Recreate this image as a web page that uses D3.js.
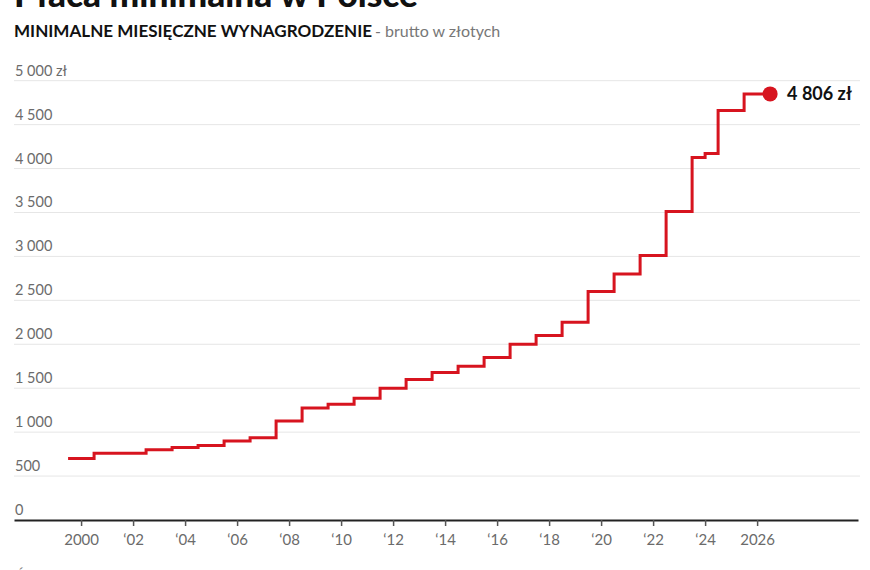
<!DOCTYPE html>
<html>
<head>
<meta charset="utf-8">
<script src="https://cdn.jsdelivr.net/npm/d3@7"></script>
<style>
  body { margin: 0; background: #fff; }
  text { font-family: Lato, "Open Sans", sans-serif; }
</style>
</head>
<body>
<div id="chart"></div>
<script>
// start of each wage period (decimal year) and wage in zł
const periods = [2000, 2001, 2002, 2003, 2004, 2005, 2006, 2007, 2008, 2009,
                 2010, 2011, 2012, 2013, 2014, 2015, 2016, 2017, 2018, 2019,
                 2020, 2021, 2022, 2023, 2024, 2024.5, 2025, 2026];
const wages = [700, 760, 760, 800, 824, 849, 899, 936, 1126, 1276,
               1317, 1386, 1500, 1600, 1680, 1750, 1850, 2000, 2100, 2250,
               2600, 2800, 3010, 3510, 4125, 4170, 4660, 4850];
const endYear = 2027;
const endLabel = "4 806 zł";

const yTicks = [0, 500, 1000, 1500, 2000, 2500, 3000, 3500, 4000, 4500, 5000];
const xTicks = [2000, 2002, 2004, 2006, 2008, 2010, 2012, 2014, 2016, 2018, 2020, 2022, 2024, 2026];

const title = "Płaca minimalna w Polsce";
const subtitleBold = "MINIMALNE MIESIĘCZNE WYNAGRODZENIE";
const subtitleLight = " - brutto w złotych";
const source = "Źródło: GUS, MRPiPS";

const W = 870, H = 570;
const red = "#d7141f";

const svg = d3.select("#chart").append("svg")
    .attr("width", W)
    .attr("height", H);

const x = d3.scaleLinear()
    .domain([1997.92, 2030.38])
    .range([14, 858]);

const y = d3.scaleLinear()
    .domain([0, 5000])
    .range([520, 80.7]);

// title (cut off at the top)
svg.append("text")
    .attr("x", 14)
    .attr("y", 7)
    .attr("textLength", 404)
    .attr("lengthAdjust", "spacingAndGlyphs")
    .style("font-size", "34px")
    .style("font-weight", 900)
    .attr("fill", "#111")
    .text(title);

svg.append("text")
    .attr("x", 14)
    .attr("y", 36.5)
    .attr("textLength", 358)
    .attr("lengthAdjust", "spacingAndGlyphs")
    .style("font-size", "17px")
    .style("font-weight", 700)
    .attr("fill", "#111")
    .text(subtitleBold);

svg.append("text")
    .attr("x", 375)
    .attr("y", 36.5)
    .style("font-size", "16px")
    .style("font-weight", 400)
    .attr("fill", "#777")
    .text(subtitleLight.trim());

// grid
svg.append("g")
    .attr("class", "grid")
    .selectAll("line")
    .data(yTicks.filter(d => d > 0))
    .join("line")
    .attr("x1", 14)
    .attr("x2", 860)
    .attr("y1", d => y(d))
    .attr("y2", d => y(d))
    .attr("stroke", "#e6e6e6")
    .attr("stroke-width", 1);

const fmt = d => d3.format(",")(d).replace(/,/g, " ");

svg.append("g")
    .selectAll("text")
    .data(yTicks)
    .join("text")
    .attr("x", 15)
    .attr("y", d => y(d) - 5)
    .style("font-size", "14.5px")
    .attr("fill", "#6b6b6b")
    .text(d => d === 5000 ? fmt(d) + " zł" : fmt(d));

// x axis, ticks in the middle of each year
const xAxis = d3.axisBottom(x)
    .tickValues(xTicks.map(d => d + 0.5))
    .tickSize(6)
    .tickSizeOuter(0)
    .tickPadding(8)
    .tickFormat(d => {
        const yr = Math.floor(d);
        return (yr === 2000 || yr === 2026) ? String(yr) : "\u2018" + String(yr).slice(2);
    });

const gx = svg.append("g")
    .attr("transform", "translate(0," + y(0) + ")")
    .call(xAxis);
gx.select(".domain").attr("stroke", "#222").attr("stroke-width", 2);
gx.selectAll(".tick line").attr("stroke", "#555").attr("stroke-width", 1.5);
gx.selectAll(".tick text")
    .attr("fill", "#6b6b6b")
    .style("font-size", "15px")
    .style("font-family", "Lato, sans-serif");

// step line
const pts = periods.map((p, i) => ({ t: p, v: wages[i] }));
pts.push({ t: endYear, v: wages[wages.length - 1] });

const step = d3.line()
    .x(d => x(d.t))
    .y(d => y(d.v))
    .curve(d3.curveStepAfter);

svg.append("path")
    .datum(pts)
    .attr("fill", "none")
    .attr("stroke", red)
    .attr("stroke-width", 3)
    .attr("d", step);

const last = pts[pts.length - 1];
svg.append("circle")
    .attr("cx", x(last.t))
    .attr("cy", y(last.v))
    .attr("r", 7.5)
    .attr("fill", red);

svg.append("text")
    .attr("x", x(last.t) + 17)
    .attr("y", y(last.v) + 6)
    .style("font-size", "18px")
    .style("font-weight", 700)
    .attr("fill", "#111")
    .text(endLabel);

// source line (cut off at the bottom)
svg.append("text")
    .attr("x", 16)
    .attr("y", 580)
    .style("font-size", "14px")
    .attr("fill", "#777")
    .text(source);
</script>
</body>
</html>
